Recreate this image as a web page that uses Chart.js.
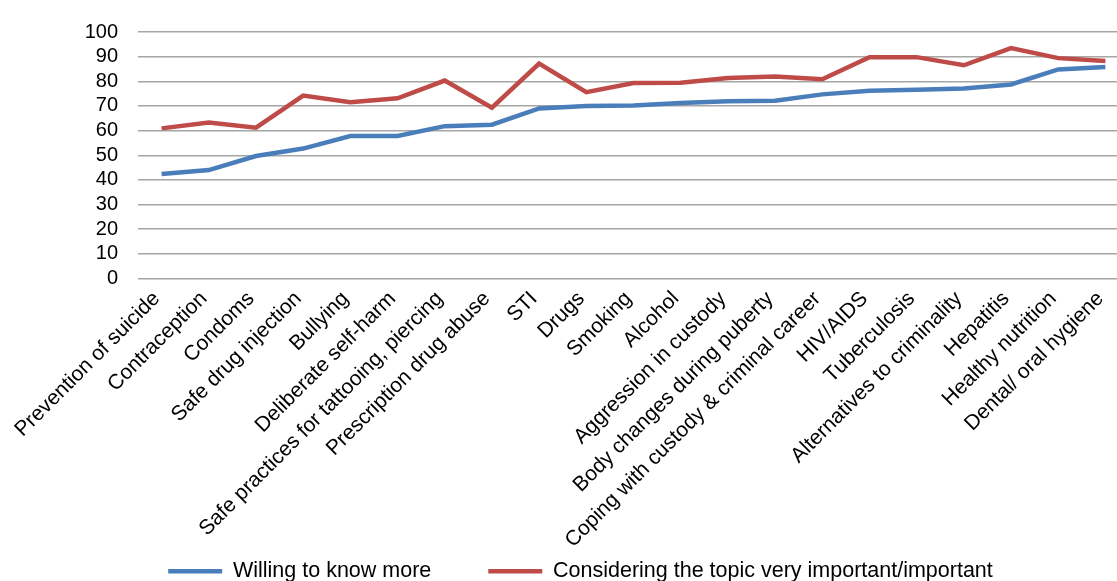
<!DOCTYPE html>
<html>
<head>
<meta charset="utf-8">
<script src="https://cdn.jsdelivr.net/npm/chart.js@4/dist/chart.umd.min.js"></script>
<style>
    html, body { margin: 0; padding: 0; background: #fff; overflow: hidden; }
    #wrap { position: relative; width: 1129px; height: 592px; }
</style>
</head>
<body>
<div id="wrap"><canvas id="topicChart"></canvas></div>
<script>
const topics = [
    'Prevention of suicide', 'Contraception', 'Condoms', 'Safe drug injection', 'Bullying',
    'Deliberate self-harm', 'Safe practices for tattooing, piercing', 'Prescription drug abuse',
    'STI', 'Drugs', 'Smoking', 'Alcohol', 'Aggression in custody', 'Body changes during puberty',
    'Coping with custody & criminal career', 'HIV/AIDS', 'Tuberculosis', 'Alternatives to criminality',
    'Hepatitis', 'Healthy nutrition', 'Dental/ oral hygiene'
];
const willingToKnow = [42.4, 44, 49.7, 52.7, 57.8, 57.8, 61.8, 62.4, 69, 70, 70.2, 71.2, 71.9, 72.1, 74.7, 76.2, 76.6, 77.1, 78.7, 84.8, 85.8];
const consideredImportant = [60.9, 63.3, 61.2, 74.2, 71.5, 73.1, 80.3, 69.3, 87.2, 75.6, 79.3, 79.4, 81.3, 81.9, 80.8, 89.8, 89.8, 86.5, 93.5, 89.4, 88.2];
const yTicks = [0, 10, 20, 30, 40, 50, 60, 70, 80, 90, 100];

const FONT = '"Liberation Sans", Arial, sans-serif';

// the rotated category labels run down past the axis box, into the legend band
const unclipLabels = {
    id: 'unclipLabels',
    afterLayout(chart) {
        chart.scales.x.bottom = chart.height;
    }
};

new Chart(document.getElementById('topicChart'), {
    type: 'line',
    data: {
        labels: topics,
        datasets: [{
            label: 'Willing to know more',
            data: willingToKnow,
            borderColor: '#4A7EBB',
            backgroundColor: '#4A7EBB',
            borderWidth: 4.5,
            pointRadius: 0,
            tension: 0,
            fill: false
        }, {
            label: 'Considering the topic very important/important',
            data: consideredImportant,
            borderColor: '#BE4B48',
            backgroundColor: '#BE4B48',
            borderWidth: 4.5,
            pointRadius: 0,
            tension: 0,
            fill: false
        }]
    },
    plugins: [unclipLabels],
    options: {
        responsive: true,
        maintainAspectRatio: false,
        animation: false,
        layout: { padding: { top: 28, left: 32, right: 0, bottom: 0 } },
        plugins: {
            tooltip: { enabled: false },
            legend: {
                position: 'bottom',
                labels: {
                    font: { family: FONT, size: 21.5 },
                    color: '#000',
                    usePointStyle: true,
                    pointStyle: 'line',
                    pointStyleWidth: 54,
                    padding: 57,
                    boxHeight: 4
                }
            }
        },
        scales: {
            x: {
                offset: true,
                grid: { display: false },
                border: { display: false },
                ticks: {
                    autoSkip: false,
                    maxRotation: 45,
                    minRotation: 45,
                    color: '#000',
                    padding: 0,
                    labelOffset: -5,
                    font: { family: FONT, size: 21 }
                },
                afterFit: s => { s.height = 225; }
            },
            y: {
                min: 0,
                max: 100,
                afterBuildTicks: s => { s.ticks = yTicks.map(v => ({ value: v })); },
                grid: { color: '#A6A6A6', lineWidth: 1.5, drawTicks: false },
                border: { display: false },
                ticks: {
                    autoSkip: false,
                    color: '#000',
                    padding: 20,
                    font: { family: FONT, size: 20 }
                },
                afterFit: s => { s.width = 106; }
            }
        }
    }
});
</script>
</body>
</html>
